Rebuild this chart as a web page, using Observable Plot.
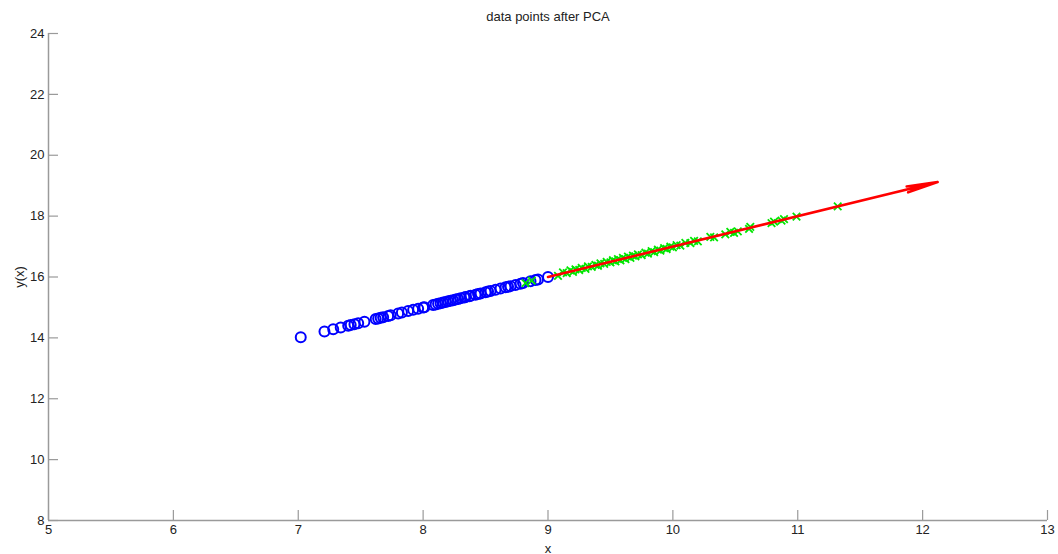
<!DOCTYPE html>
<html>
<head>
<meta charset="utf-8">
<script src="https://cdn.jsdelivr.net/npm/d3@7"></script>
<script src="https://cdn.jsdelivr.net/npm/@observablehq/plot@0.6"></script>
<style>
  html, body { margin: 0; padding: 0; background: #fff; }
  svg { display: block; }
</style>
</head>
<body>
<div id="chart"></div>
<script>
const titleText = "data points after PCA";
const xTicks = [5, 6, 7, 8, 9, 10, 11, 12, 13];
const yTicks = [8, 10, 12, 14, 16, 18, 20, 22, 24];

// projected data (blue circles)
const blueX = [7.02, 7.21, 7.28, 7.34, 7.40, 7.42, 7.45, 7.48, 7.53, 7.62, 7.64, 7.66, 7.68, 7.72, 7.74, 7.80, 7.83, 7.88, 7.92, 7.96,
  8.00, 8.01, 8.08, 8.10, 8.12, 8.14, 8.16, 8.18, 8.20, 8.22, 8.24, 8.26, 8.28, 8.30, 8.33, 8.34, 8.37, 8.38, 8.42, 8.44,
  8.46, 8.50, 8.52, 8.54, 8.58, 8.62, 8.66, 8.68, 8.70, 8.74, 8.78, 8.80, 8.86, 8.90, 8.92, 9.00];
const blueY = [14.02, 14.21, 14.28, 14.34, 14.40, 14.42, 14.45, 14.48, 14.53, 14.62, 14.64, 14.66, 14.68, 14.72, 14.74, 14.80, 14.83, 14.88, 14.92, 14.96,
  15.00, 15.01, 15.08, 15.10, 15.12, 15.14, 15.16, 15.18, 15.20, 15.22, 15.24, 15.26, 15.28, 15.30, 15.33, 15.34, 15.37, 15.38, 15.42, 15.44,
  15.46, 15.50, 15.52, 15.54, 15.58, 15.62, 15.66, 15.68, 15.70, 15.74, 15.78, 15.80, 15.86, 15.90, 15.92, 16.00];

// green crosses
const greenX = [8.82, 8.87, 9.08, 9.12, 9.15, 9.18, 9.20, 9.22, 9.25, 9.27, 9.30, 9.32, 9.35, 9.38, 9.40, 9.42, 9.45, 9.47, 9.50, 9.52,
  9.54, 9.56, 9.58, 9.60, 9.62, 9.64, 9.66, 9.68, 9.70, 9.72, 9.75, 9.78, 9.80, 9.83, 9.85, 9.88, 9.90, 9.93, 9.95, 9.98,
  10.00, 10.03, 10.06, 10.10, 10.14, 10.17, 10.20, 10.30, 10.33, 10.42, 10.46, 10.49, 10.52, 10.61, 10.62, 10.79, 10.81, 10.87, 10.89, 10.99, 11.32];
const greenY = [15.80, 15.88, 16.04, 16.15, 16.13, 16.22, 16.17, 16.25, 16.23, 16.30, 16.27, 16.35, 16.33, 16.40, 16.37, 16.45, 16.43, 16.50, 16.48, 16.55,
  16.51, 16.59, 16.55, 16.63, 16.59, 16.67, 16.63, 16.70, 16.68, 16.74, 16.72, 16.80, 16.77, 16.85, 16.82, 16.90, 16.87, 16.95, 16.92, 17.00,
  16.97, 17.05, 17.03, 17.12, 17.11, 17.19, 17.17, 17.32, 17.30, 17.40, 17.48, 17.45, 17.50, 17.58, 17.65, 17.77, 17.82, 17.85, 17.90, 17.98, 18.32];

// principal direction arrow
const arrowStart = [9.0, 16.0];
const arrowEnd = [12.12, 19.12];

const blue = blueX.map((x, i) => ({x, y: blueY[i]}));
const green = greenX.map((x, i) => ({x, y: greenY[i]}));
const arrows = [{x1: arrowStart[0], y1: arrowStart[1], x2: arrowEnd[0], y2: arrowEnd[1]}];

const axisColor = "#9a9a9a";
const chart = Plot.plot({
  width: 1058,
  height: 554,
  marginLeft: 48,
  marginRight: 11,
  marginTop: 33,
  marginBottom: 34,
  style: {fontFamily: "'Liberation Sans', Arial, sans-serif", fontSize: "12px", color: "#222", background: "#fff"},
  x: {domain: [5, 13]},
  y: {domain: [8, 24]},
  marks: [
    Plot.ruleX([5], {stroke: axisColor, strokeWidth: 1.5}),
    Plot.ruleY([8], {stroke: axisColor, strokeWidth: 1.5}),
    Plot.axisX({ticks: xTicks, tickSize: -10, tickPadding: 14, stroke: axisColor, strokeOpacity: 1, strokeWidth: 1.2, fill: "#222",
      label: "x", labelAnchor: "center", labelArrow: "none", labelOffset: 32, fontSize: 13}),
    Plot.axisY({ticks: yTicks, tickSize: -10, tickPadding: 14, stroke: axisColor, strokeOpacity: 1, strokeWidth: 1.2, fill: "#222",
      label: "y(x)", labelAnchor: "center", labelArrow: "none", labelOffset: 34, fontSize: 13}),
    Plot.dot(blue, {x: "x", y: "y", r: 5, stroke: "#0000ff", strokeWidth: 2, fill: "none"}),
    Plot.dot(green, {x: "x", y: "y", symbol: "times", r: 3.5, stroke: "#00e600", strokeWidth: 1.8}),
    Plot.arrow(arrows, {x1: "x1", y1: "y1", x2: "x2", y2: "y2", stroke: "#ff0000", strokeWidth: 2.6, headLength: 18, headAngle: 11}),
    Plot.text([titleText], {frameAnchor: "top", dy: -22, fontSize: 13, fill: "#222"})
  ]
});
document.getElementById("chart").appendChild(chart);
</script>
</body>
</html>
